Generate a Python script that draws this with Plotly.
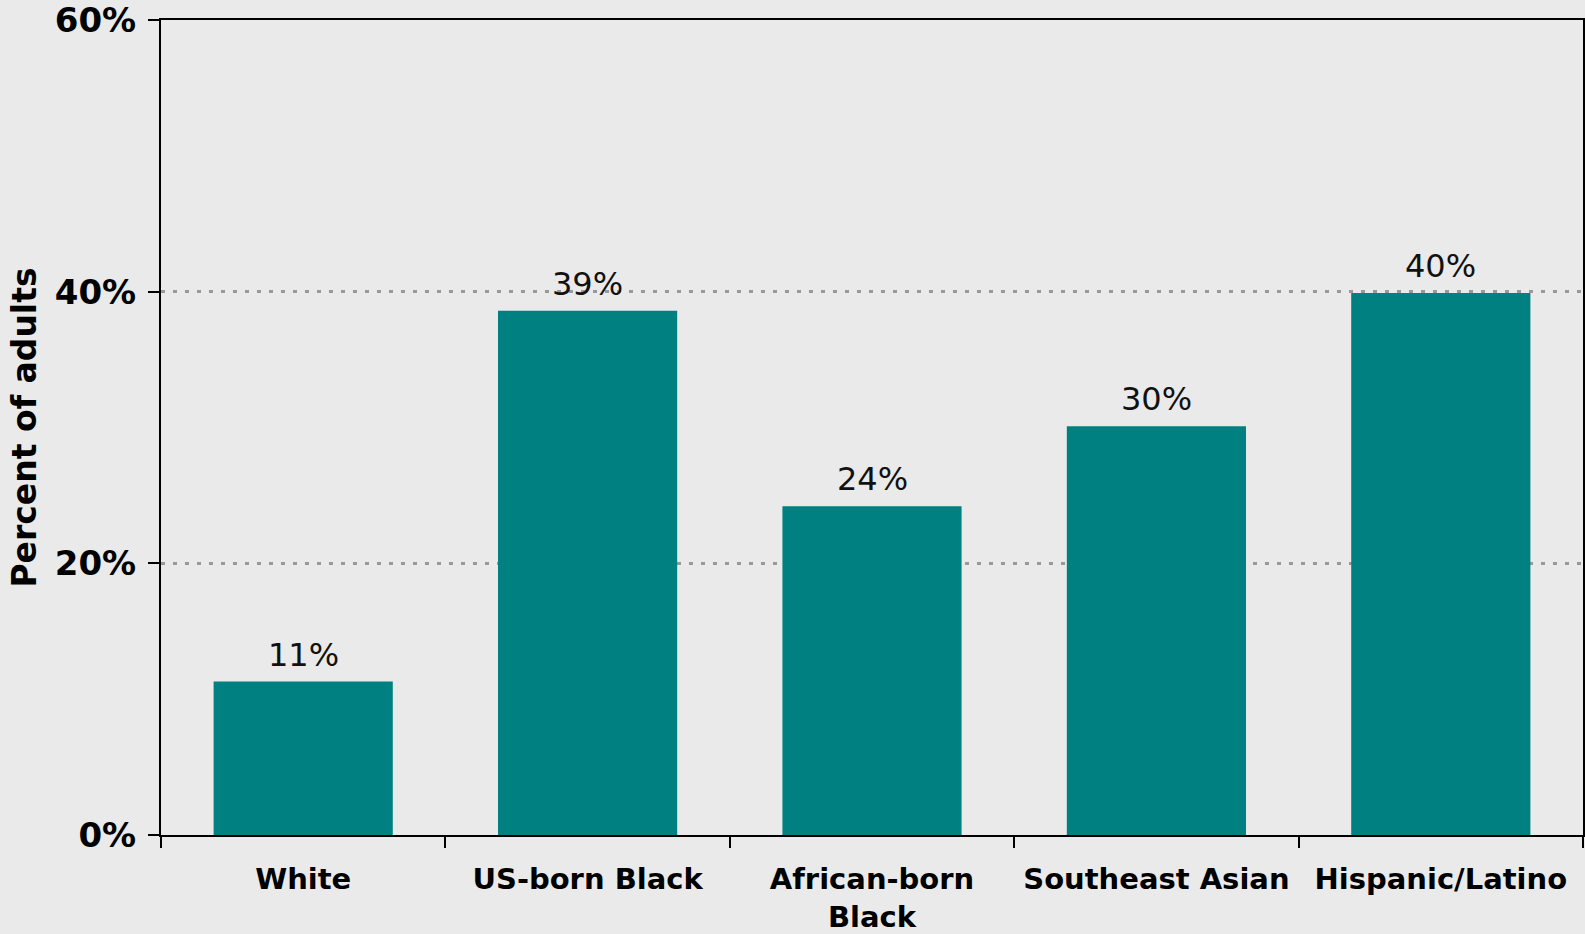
import plotly.graph_objects as go

categories = ["White", "US-born Black", "African-born<br>Black", "Southeast Asian", "Hispanic/Latino"]
values = [11.3, 38.6, 24.2, 30.1, 39.9]
value_labels = ["11%", "39%", "24%", "30%", "40%"]
y_ticks = [0, 20, 40, 60]
y_tick_labels = ["0%", "20%", "40%", "60%"]

BG = "#EAEAEA"
TEAL = "#008080"

fig = go.Figure()
fig.add_trace(go.Bar(
    x=categories, y=values, marker=dict(color=TEAL, line=dict(width=0)),
    width=0.63, hoverinfo="skip",
))

for c, v, t in zip(categories, values, value_labels):
    fig.add_annotation(x=c, y=v, text=t, showarrow=False, yanchor="middle", yshift=27,
                       font=dict(family="DejaVu Sans", size=32, color="#111111"))

fig.update_layout(
    width=1585, height=934,
    margin=dict(l=161, r=2, t=20, b=99, autoexpand=False),
    paper_bgcolor=BG, plot_bgcolor=BG,
    showlegend=False,
)
fig.update_xaxes(
    automargin=False,
    showline=True, linecolor="black", linewidth=2, mirror=True,
    ticks="outside", tickson="boundaries", ticklen=11, tickwidth=2, tickcolor="black",
    tickfont=dict(family="DejaVu Sans", size=29, color="black", weight="bold"),
    ticklabelstandoff=17,
    showgrid=False,
)
fig.update_yaxes(
    automargin=False,
    range=[0, 60], tickvals=y_ticks, ticktext=y_tick_labels,
    showline=True, linecolor="black", linewidth=2, mirror=True,
    ticks="outside", ticklen=11, tickwidth=2, tickcolor="black",
    tickfont=dict(family="DejaVu Sans", size=34, color="black", weight="bold"),
    ticklabelstandoff=5, ticklabeloverflow="allow",
    showgrid=True, gridcolor="#999999", griddash="4px,8px", gridwidth=3,
    zeroline=False,
    title=dict(text="Percent of adults", standoff=8,
               font=dict(family="DejaVu Sans", size=33, color="black", weight="bold")),
)

fig.write_html("out.html", config={"displayModeBar": False},
               post_script="document.body.style.margin='0';document.body.style.overflow='hidden';")
